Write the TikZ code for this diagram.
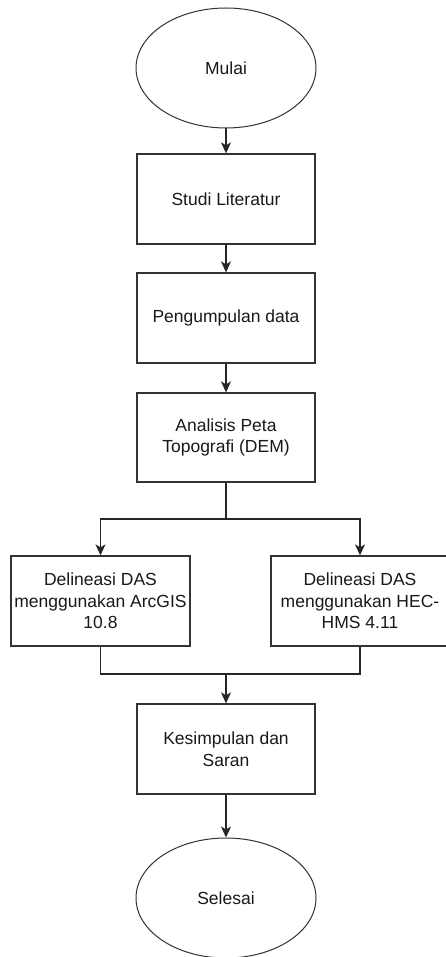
\documentclass[tikz,border=0pt]{standalone}
\usepackage{fontspec}
\setmainfont{Liberation Sans}
\usetikzlibrary{arrows.meta,shapes.geometric}
\begin{document}
\begin{tikzpicture}[x=1pt,y=-1pt,
  every node/.style={font=\fontsize{17.5}{21.5}\selectfont, text=black!90, inner sep=0pt, align=center},
  procbox/.style={draw=black!80, line width=1.3pt, fill=white, minimum width=178pt, minimum height=90pt},
  termnode/.style={draw=black!80, line width=1pt, ellipse, fill=white, minimum width=180pt, minimum height=120pt},
  flow/.style={draw=black!85, line width=1.3pt, -{Stealth[length=11pt,width=10pt,inset=3pt]}},
  plain/.style={draw=black!85, line width=1.3pt}]
\useasboundingbox (0,0) rectangle (446,957);
\node[termnode] (mulai) at (226,68) {Mulai};
\node[procbox] (studi) at (226,199) {Studi Literatur};
\node[procbox] (kumpul) at (226,318) {Pengumpulan data};
\node[procbox, minimum height=89pt] (analisis) at (226,437.5) {Analisis Peta\\Topografi (DEM)};
\node[procbox, minimum width=179pt] (kiri) at (100.5,601) {Delineasi DAS\\menggunakan ArcGIS\\10.8};
\node[procbox] (kanan) at (360,601) {Delineasi DAS\\menggunakan HEC-\\HMS 4.11};
\node[procbox] (simpul) at (226,749) {Kesimpulan dan\\Saran};
\node[termnode] (selesai) at (226,898) {Selesai};
\coordinate (split) at (226,519);
\coordinate (merge) at (226,674);
\draw[flow] (mulai) -- (studi);
\draw[flow] (studi) -- (kumpul);
\draw[flow] (kumpul) -- (analisis);
\draw[plain] (analisis.south) -- (split);
\draw[flow] (split) -| (kiri.north);
\draw[flow] (split) -| (kanan.north);
\draw[plain] (kiri.south) |- (merge);
\draw[plain] (kanan.south) |- (merge);
\draw[flow] (merge) -- (simpul.north);
\draw[flow] (simpul) -- (selesai);
\end{tikzpicture}
\end{document}
